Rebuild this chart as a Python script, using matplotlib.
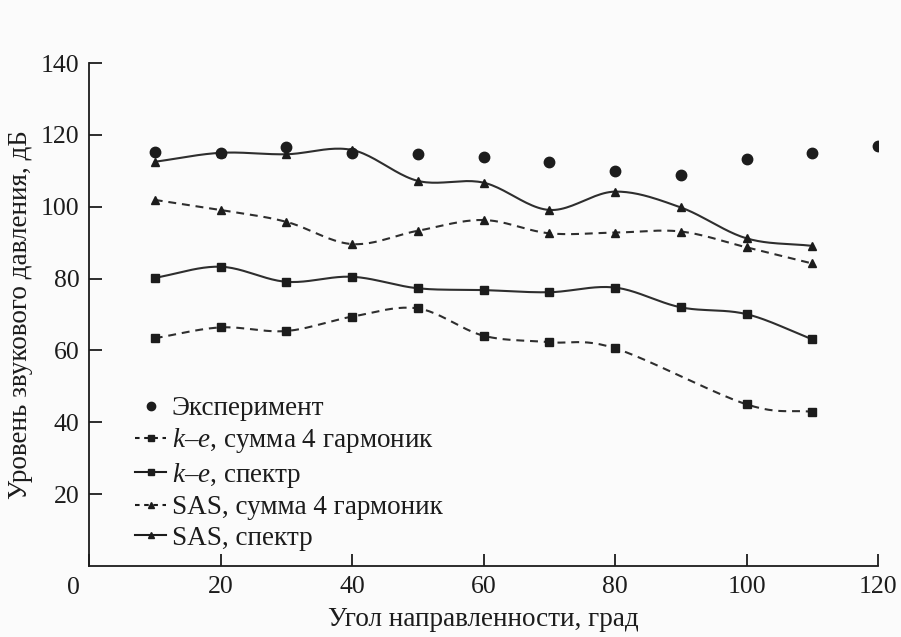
import numpy as np
import matplotlib
matplotlib.use("Agg")
import matplotlib.pyplot as plt
from matplotlib.lines import Line2D

plt.rcParams["font.family"] = ["Liberation Serif", "DejaVu Serif"]
plt.rcParams["mathtext.fontset"] = "custom"
plt.rcParams["mathtext.rm"] = "Liberation Serif"
plt.rcParams["mathtext.it"] = "Liberation Serif:italic"

# Angle of directivity, degrees
angle_exp = [10, 20, 30, 40, 50, 60, 70, 80, 90, 100, 110, 120]
level_exp = [115.3, 115.0, 116.5, 114.9, 114.7, 113.9, 112.5, 110.0, 108.9, 113.3, 115.0, 116.9]

angle_ke_sum = [10, 20, 30, 40, 50, 60, 70, 80, 100, 110]
level_ke_sum = [63.4, 66.4, 65.4, 69.4, 71.7, 64.1, 62.3, 60.6, 45.0, 42.9]

angle_ke_spec = [10, 20, 30, 40, 50, 60, 70, 80, 90, 100, 110]
level_ke_spec = [80.2, 83.3, 79.1, 80.5, 77.3, 76.8, 76.2, 77.5, 72.0, 70.1, 63.1]

angle_sas_sum = [10, 20, 30, 40, 50, 60, 70, 80, 90, 100, 110]
level_sas_sum = [101.9, 99.1, 95.8, 89.6, 93.3, 96.3, 92.6, 92.8, 93.1, 88.7, 84.2]

angle_sas_spec = [10, 20, 30, 40, 50, 60, 70, 80, 90, 100, 110]
level_sas_spec = [112.5, 115.0, 114.6, 115.8, 107.2, 106.7, 99.1, 104.2, 99.8, 91.2, 89.1]

x_ticks = [0, 20, 40, 60, 80, 100, 120]
y_ticks = [20, 40, 60, 80, 100, 120, 140]

labels = [
    "Эксперимент",
    "$k$–$e$, сумма 4 гармоник",
    "$k$–$e$, спектр",
    "SAS, сумма 4 гармоник",
    "SAS, спектр",
]


def smooth_curve(x, y, n=24):
    """Catmull-Rom curve through the given points (spreadsheet-style smoothing)."""
    p = np.column_stack([np.asarray(x, float), np.asarray(y, float)])
    ext = np.vstack([2 * p[0] - p[1], p, 2 * p[-1] - p[-2]])
    t = np.linspace(0, 1, n)[:, None]
    out = []
    for i in range(1, len(ext) - 2):
        p0, p1, p2, p3 = ext[i - 1], ext[i], ext[i + 1], ext[i + 2]
        seg = 0.5 * ((2 * p1) + (-p0 + p2) * t + (2 * p0 - 5 * p1 + 4 * p2 - p3) * t ** 2
                     + (-p0 + 3 * p1 - 3 * p2 + p3) * t ** 3)
        out.append(seg if i == 1 else seg[1:])
    c = np.vstack(out)
    return c[:, 0], c[:, 1]


ink = "#1c1c1c"
line_c = "#2e2e2e"
bg = "#fbfbfb"

fig = plt.figure(figsize=(9.01, 6.37), dpi=100, facecolor=bg)
ax = fig.add_axes([89 / 901, 1 - 566 / 637, (878 - 89) / 901, (566 - 63) / 637])
ax.set_facecolor(bg)

dash = (0, (3.8, 2.8))

series = [
    (angle_ke_sum, level_ke_sum, dash, "s", 6.0),
    (angle_ke_spec, level_ke_spec, "-", "s", 6.0),
    (angle_sas_sum, level_sas_sum, dash, "^", 5.5),
    (angle_sas_spec, level_sas_spec, "-", "^", 5.5),
]
for xs, ys, ls, mk, ms in series:
    cx, cy = smooth_curve(xs, ys)
    ax.plot(cx, cy, color=line_c, lw=1.5, linestyle=ls, zorder=2)
    ax.plot(xs, ys, linestyle="none", marker=mk, ms=ms, color=ink, zorder=3)

ax.plot(angle_exp, level_exp, linestyle="none", marker="o", ms=7.5, color=ink, zorder=4)

ax.set_xlim(0, 120)
ax.set_ylim(0, 140)
ax.spines["top"].set_visible(False)
ax.spines["right"].set_visible(False)
for s in ("left", "bottom"):
    ax.spines[s].set_linewidth(1.3)
    ax.spines[s].set_color(ink)

ax.set_xticks(x_ticks)
ax.set_xticklabels([""] + [str(v) for v in x_ticks[1:]])
ax.set_yticks(y_ticks)
ax.set_yticklabels([str(v) for v in y_ticks])
ax.tick_params(direction="in", length=9, width=1.3, color=ink, labelsize=18.5,
               labelcolor=ink)
ax.tick_params(axis="y", pad=7)
ax.tick_params(axis="x", pad=7.5)
# shared corner label for the origin
ax.annotate("0", xy=(0, 0), xycoords="data", xytext=(-11, -8),
            textcoords="offset points", ha="center", va="top", fontsize=18.5,
            color=ink, annotation_clip=False)

ax.set_xlabel("Угол направленности, град", fontsize=19.5, color=ink, labelpad=6)
ax.set_ylabel("Уровень звукового давления, дБ", fontsize=19.5, color=ink)
ax.yaxis.set_label_coords(-0.071, 0.50)

handles = [
    Line2D([], [], linestyle="none", marker="o", ms=6, color=ink),
    Line2D([], [], linestyle=(0, (2.2, 2.2)), lw=1.5, marker="s", ms=5, color=ink),
    Line2D([], [], linestyle="-", lw=1.5, marker="s", ms=5, color=ink),
    Line2D([], [], linestyle=(0, (2.2, 2.2)), lw=1.5, marker="^", ms=5, color=ink),
    Line2D([], [], linestyle="-", lw=1.5, marker="^", ms=5, color=ink),
]
fig.legend(handles, labels, loc="upper left", bbox_to_anchor=(135 / 901, 1 - 396 / 637),
           frameon=False, fontsize=19.5, handlelength=1.15, handletextpad=0.2,
           labelspacing=0.2, borderpad=0, borderaxespad=0, labelcolor=ink)

fig.savefig("out.png", dpi=100, facecolor=bg)
